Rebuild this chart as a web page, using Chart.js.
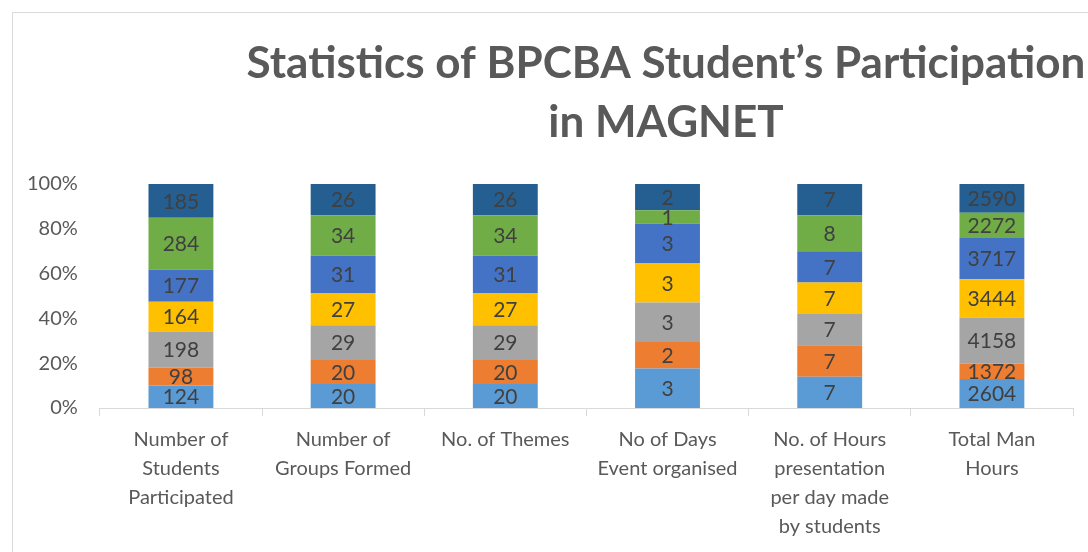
<!DOCTYPE html>
<html>
<head>
<meta charset="utf-8">
<script src="https://cdn.jsdelivr.net/npm/chart.js@4"></script>
<style>
html,body{margin:0;padding:0;background:#fff;}
#wrap{position:absolute;left:12px;top:12px;width:1076px;height:540px;border-left:1px solid #d9d9d9;border-top:1px solid #d9d9d9;}
#c{position:absolute;left:0;top:0;}
</style>
</head>
<body>
<div id="wrap"><canvas id="c" width="1076" height="540"></canvas></div>
<script>
const categories = [
  ["Number of","Students","Participated"],
  ["Number of","Groups Formed"],
  "No. of Themes",
  ["No of Days","Event organised"],
  ["No. of Hours","presentation","per day made","by students"],
  ["Total Man","Hours"]
];
const series1 = [124, 20, 20, 3, 7, 2604];
const series2 = [98, 20, 20, 2, 7, 1372];
const series3 = [198, 29, 29, 3, 7, 4158];
const series4 = [164, 27, 27, 3, 7, 3444];
const series5 = [177, 31, 31, 3, 7, 3717];
const series6 = [284, 34, 34, 1, 8, 2272];
const series7 = [185, 26, 26, 2, 7, 2590];
const yTickLabels = ["0%","20%","40%","60%","80%","100%"];
const titleLines = ["Statistics of BPCBA Student\u2019s Participation","in MAGNET"];

const raw = [series1,series2,series3,series4,series5,series6,series7];
const colors = ["#5B9BD5","#ED7D31","#A5A5A5","#FFC000","#4472C4","#70AD47","#255E91"];
const totals = categories.map((_,i)=>raw.reduce((s,a)=>s+a[i],0));
const FONT = "Lato, 'Open Sans', sans-serif";

const datasets = raw.map((arr,k)=>({
  label: "Series " + (k+1),
  data: arr.map((v,i)=>v/totals[i]*100),
  raw: arr,
  backgroundColor: colors[k],
  borderWidth: 0,
  categoryPercentage: 1.0,
  barPercentage: 0.4
}));

const labelPlugin = {
  id:'labels',
  afterDatasetsDraw(chart){
    const ctx = chart.ctx;
    ctx.save();
    ctx.font = "21px " + FONT;
    ctx.fillStyle = "#404040";
    ctx.textAlign = "center";
    ctx.textBaseline = "middle";
    chart.data.datasets.forEach((ds,k)=>{
      const meta = chart.getDatasetMeta(k);
      meta.data.forEach((bar,i)=>{
        const y = (bar.y + bar.base)/2;
        ctx.fillText(String(ds.raw[i]), bar.x, y+1);
      });
    });
    ctx.restore();
  }
};

const titlePlugin = {
  id:'ttl',
  afterDraw(chart){
    const ctx = chart.ctx;
    ctx.save();
    ctx.font = "bold 44px " + FONT;
    ctx.fillStyle = "#595959";
    ctx.textAlign = "center";
    ctx.textBaseline = "middle";
    ctx.fillText(titleLines[0], 653, 51);
    ctx.fillText(titleLines[1], 653, 110);
    ctx.restore();
  }
};

new Chart(document.getElementById('c'), {
  type:'bar',
  data:{labels:categories, datasets},
  options:{
    responsive:false,
    animation:false,
    layout:{padding:{top:171,left:0,right:16,bottom:3}},
    plugins:{legend:{display:false},tooltip:{enabled:false},title:{display:false}},
    scales:{
      x:{
        stacked:true,
        grid:{display:true,drawOnChartArea:false,offset:true,color:"#d9d9d9",tickLength:8,lineWidth:1},
        border:{display:true,color:"#d9d9d9"},
        ticks:{color:"#595959",font:{size:20,family:FONT,lineHeight:1.45},maxRotation:0,autoSkip:false,padding:9}
      },
      y:{
        stacked:true,
        min:0,max:100,
        grid:{display:false},
        border:{display:false},
        ticks:{stepSize:20,color:"#595959",font:{size:20,family:FONT},padding:14,
          callback:(v)=>yTickLabels[Math.round(v/20)]}
      }
    }
  },
  plugins:[labelPlugin,titlePlugin]
});
</script>
</body>
</html>
